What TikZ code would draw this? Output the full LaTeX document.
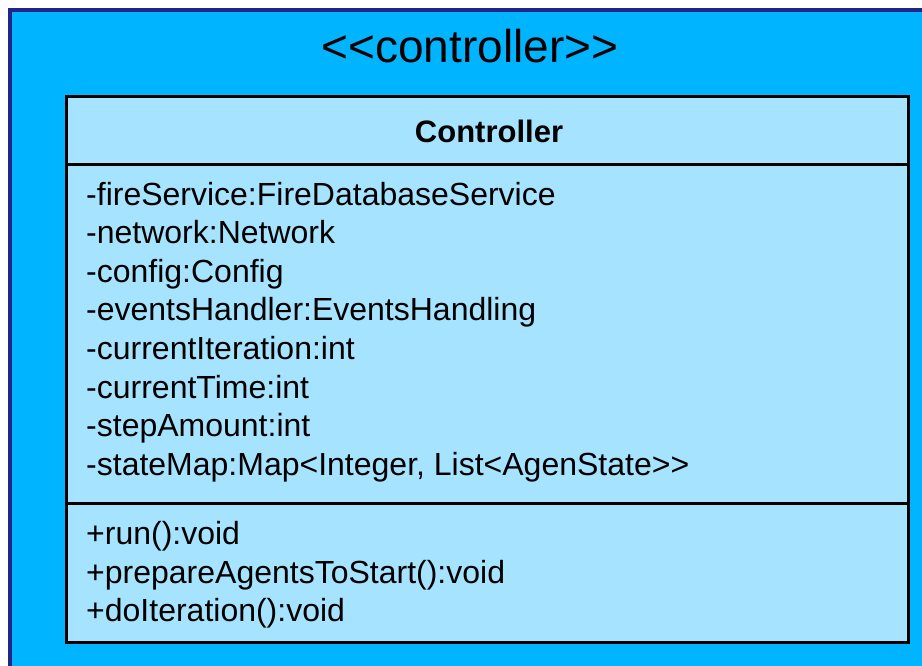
\documentclass[tikz,border=0pt]{standalone}
\usepackage{fontspec}
\setmainfont{Liberation Sans}[Ligatures=TeXOff]
\definecolor{pkgfill}{RGB}{0,180,255}
\definecolor{pkgline}{RGB}{35,35,140}
\definecolor{classfill}{RGB}{166,227,255}

\begin{document}
\begin{tikzpicture}[
            x = 1pt, y = -1pt, % pixel grid, y down
            title/.style = {font=\fontsize{46}{52}\selectfont, anchor=base},
            head/.style = {font=\fontsize{31}{36}\selectfont\bfseries, anchor=base},
            member/.style = {font=\fontsize{32}{36}\selectfont, anchor=base west, inner sep=0pt},
            box/.style = {draw = black, line width = 3pt, fill = classfill}
        ]
        \useasboundingbox (0,0) rectangle (922,665);

        % package frame
        \fill[pkgfill, draw = pkgline, line width = 4pt] (10,10) rectangle (940,690);
        \node[title] (pkg) at (470,62) {<<controller>>};

        % class box
        \draw[box] (66,96) rectangle (908,642);
        \draw[line width = 3pt] (66,164) -- (908,164);
        \draw[line width = 3pt] (66,503) -- (908,503);
        \node[head] (name) at (489,142) {Controller};

        % attributes
        \foreach \txt [count=\i from 0] in {
            -fireService:FireDatabaseService,
            -network:Network,
            -config:Config,
            -eventsHandler:EventsHandling,
            -currentIteration:int,
            -currentTime:int,
            -stepAmount:int,
            {-stateMap:Map<Integer, List<AgenState>>}}
            \node[member] (attr\i) at (86,{205+38.6*\i}) {\txt};

        % operations
        \node[member] (op0) at (86,544) {+run():void};
        \node[member] (op1) at (86,583) {+prepareAgentsToStart():void};
        \node[member] (op2) at (86,621) {+doIteration():void};
    \end{tikzpicture}
\end{document}
